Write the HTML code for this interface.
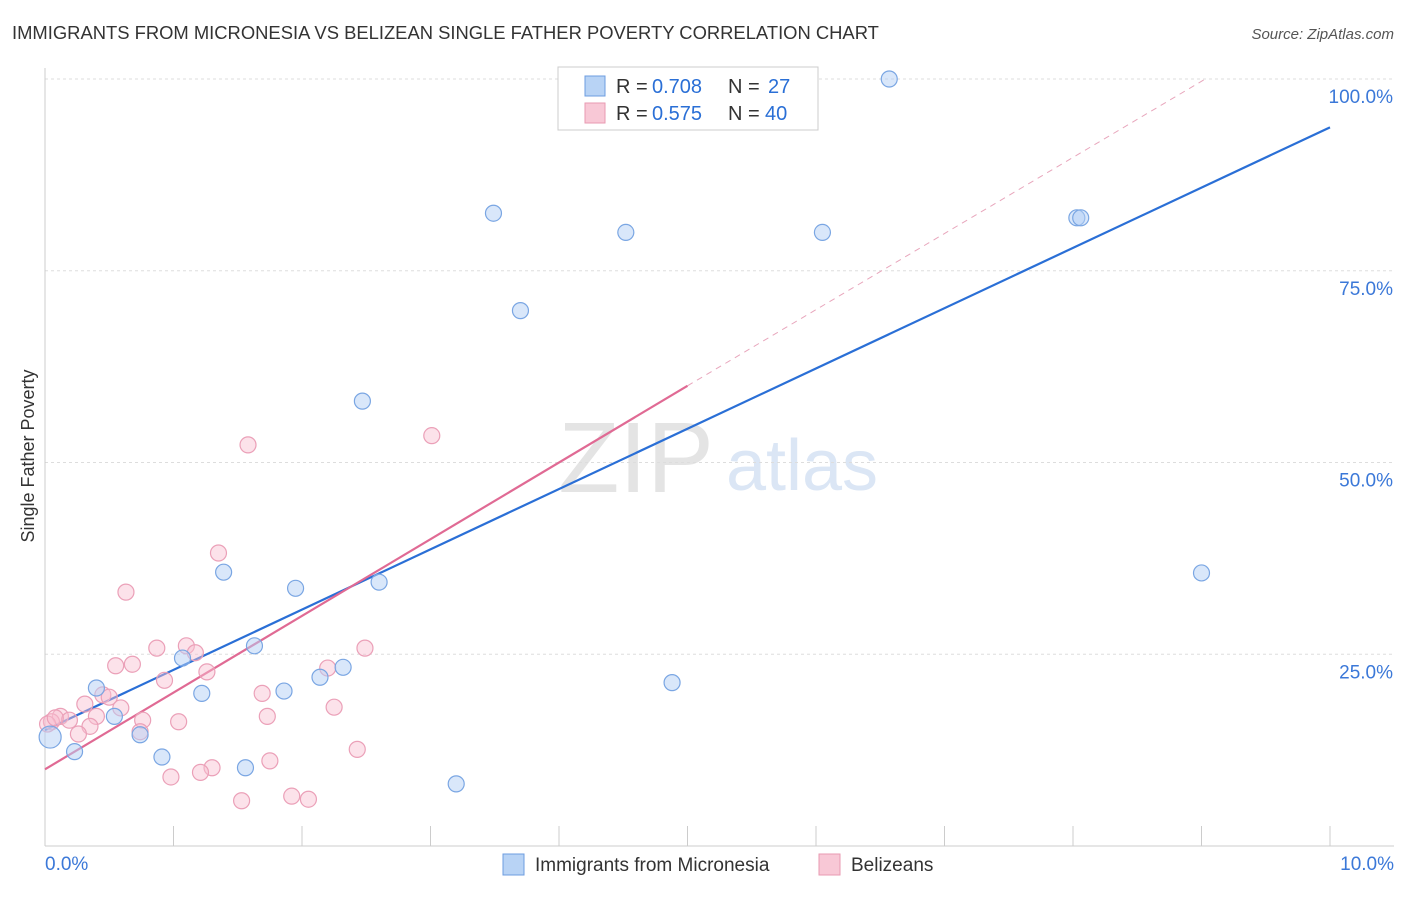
<!DOCTYPE html>
<html><head><meta charset="utf-8"><style>
body{margin:0;background:#fff;font-family:"Liberation Sans",sans-serif;}
svg text{font-family:"Liberation Sans",sans-serif;}
</style></head><body>
<svg id="chart" width="1406" height="892" xmlns="http://www.w3.org/2000/svg">
<text x="12" y="39" font-size="18.4" fill="#333">IMMIGRANTS FROM MICRONESIA VS BELIZEAN SINGLE FATHER POVERTY CORRELATION CHART</text>
<text x="1394" y="39" font-size="15" fill="#555" text-anchor="end" font-style="italic">Source: ZipAtlas.com</text>
<text x="34" y="456" font-size="18" fill="#333" text-anchor="middle" transform="rotate(-90 34 456)">Single Father Poverty</text>
<text x="636" y="492" font-size="100" fill="#e4e4e4" font-family="Liberation Serif" text-anchor="middle">ZIP</text>
<text x="802" y="490" font-size="72" fill="#dbe6f5" text-anchor="middle">atlas</text>
<g id="grid"></g><g id="axes"></g><g id="lines"></g><g id="pts"></g>
<g>
<rect x="558" y="67" width="260" height="63" fill="#fff" stroke="#ccc"/>
<rect x="585" y="76" width="20" height="20" fill="#b8d3f5" stroke="#6d9de0"/>
<text x="616" y="93" font-size="20" fill="#333">R =</text>
<text x="652" y="93" font-size="20" fill="#2a6fd6">0.708</text>
<text x="728" y="93" font-size="20" fill="#333">N =</text>
<text x="768" y="93" font-size="20" fill="#2a6fd6">27</text>
<rect x="585" y="103" width="20" height="20" fill="#f8c8d6" stroke="#e89ab2"/>
<text x="616" y="120" font-size="20" fill="#333">R =</text>
<text x="652" y="120" font-size="20" fill="#2a6fd6">0.575</text>
<text x="728" y="120" font-size="20" fill="#333">N =</text>
<text x="765" y="120" font-size="20" fill="#2a6fd6">40</text>
</g>
<g>
<rect x="503" y="854" width="21" height="21" fill="#b8d3f5" stroke="#6d9de0"/>
<text x="535" y="871" font-size="19" fill="#333">Immigrants from Micronesia</text>
<rect x="819" y="854" width="21" height="21" fill="#f8c8d6" stroke="#e89ab2"/>
<text x="851" y="871" font-size="19" fill="#333">Belizeans</text>
</g>
</svg>
<script>
const xTicks=[0,1,2,3,4,5,6,7,8,9,10];
const yTicks=[25,50,75,100];
const blueX=[6.57,3.49,4.52,6.05,8.03,8.06,3.70,2.47,1.39,1.95,2.60,9.00,1.63,1.07,2.32,2.14,1.22,1.86,4.88,0.40,0.54,0.74,0.23,0.91,1.56,3.20,0.04];
const blueY=[100,82.5,80.0,80.0,81.9,81.9,69.8,58.0,35.7,33.6,34.4,35.6,26.1,24.5,23.3,22.0,19.9,20.2,21.3,20.6,16.9,14.5,12.3,11.6,10.2,8.1,14.2];
const pinkX=[4.61,3.01,1.58,1.35,0.63,0.87,1.10,1.17,2.49,0.55,0.68,1.26,2.20,0.93,1.69,0.45,0.50,0.31,0.59,2.25,1.73,0.12,0.19,0.40,0.76,1.04,0.05,0.35,0.26,0.74,2.43,1.75,1.30,1.21,0.98,1.92,2.05,1.53,0.02,0.08];
const pinkY=[99.9,53.5,52.3,38.2,33.1,25.8,26.1,25.2,25.8,23.5,23.7,22.7,23.2,21.6,19.9,19.7,19.4,18.5,18.0,18.1,16.9,16.9,16.4,16.9,16.4,16.2,16.2,15.6,14.6,14.9,12.6,11.1,10.2,9.6,9.0,6.5,6.1,5.9,15.9,16.7];
const blueLine=[[0,15.1],[10,93.7]];
const pinkLine=[[0,10.0],[5.0,60.0]];
const pinkDash=[[5.0,60.0],[9.03,100]];
const X=v=>45+v*128.5, Y=v=>846-v*7.67;
const NS="http://www.w3.org/2000/svg";
function mk(tag,attrs,parent){const e=document.createElementNS(NS,tag);for(const k in attrs)e.setAttribute(k,attrs[k]);document.getElementById(parent).appendChild(e);return e;}
yTicks.forEach(t=>{
 const l=mk('line',{x1:45,x2:1394,y1:Y(t),y2:Y(t),stroke:'#ddd','stroke-dasharray':'3,3'},'grid');
 
 
 const tx=mk('text',{x:1393,y:Y(t)+24,'font-size':19,fill:'#3b78d8','text-anchor':'end'},'axes');
 tx.textContent=t.toFixed(1)+'%';
 
 
});
mk('line',{x1:45,x2:45,y1:68,y2:846,stroke:'#ccc'},'axes');
mk('line',{x1:45,x2:1394,y1:846,y2:846,stroke:'#ccc'},'axes');
xTicks.forEach(t=>{
 const l=mk('line',{x1:X(t),x2:X(t),y1:826,y2:846,stroke:'#ccc'},'axes');
 
 
});
[[0,'0.0%','start',45],[10,'10.0%','end',1394]].forEach(a=>{
 const tx=mk('text',{x:a[3],y:870,'font-size':19,fill:'#3b78d8','text-anchor':a[2]},'axes');
 tx.textContent=a[1];
 
 
});
function line(p,c,w,dash,name){const l=mk('line',{x1:X(p[0][0]),y1:Y(p[0][1]),x2:X(p[1][0]),y2:Y(p[1][1]),stroke:c,'stroke-width':w},'lines');if(dash)l.setAttribute('stroke-dasharray',dash);
 
 }
pinkX.forEach((x,i)=>{const c=mk('circle',{cx:X(x),cy:Y(pinkY[i]),r:8,fill:'rgba(248,190,208,0.45)',stroke:'#eba0b8','stroke-width':1.2},'pts');
 
 });
blueX.forEach((x,i)=>{const c=mk('circle',{cx:X(x),cy:Y(blueY[i]),r:i==26?11:8,fill:'rgba(180,208,245,0.5)',stroke:'#7aa6e3','stroke-width':1.2},'pts');
 
 });
line(blueLine,'#2a6fd6',2.2,null,'micronesia-trendline');
line(pinkLine,'#e06a94',2.2,null,'belizean-trendline');
line(pinkDash,'#e8a6bc',1,'6,5','belizean-trendline-extension');
</script>
</body></html>
